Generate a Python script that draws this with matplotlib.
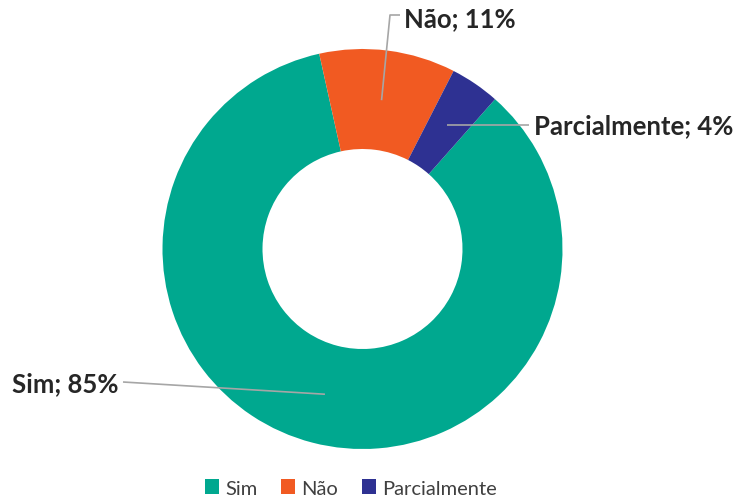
import numpy as np
import matplotlib.pyplot as plt
from matplotlib.patches import Patch

labels = ["Sim", "Não", "Parcialmente"]
values = [85, 11, 4]
colors = ["#00A88F", "#F15A22", "#2E3192"]

plt.rcParams["font.family"] = ["Lato", "DejaVu Sans"]

fig = plt.figure(figsize=(7.39, 5.02), dpi=100)
ax = fig.add_axes([0, 0, 1, 1])

cx, cy, r_out = 362.5, 252, 200
start = 48.5  # Sim begins ~41.5 deg clockwise from 12 o'clock
ax.pie(values, colors=colors, startangle=start, counterclock=False,
       center=(cx, cy), radius=r_out, frame=True,
       wedgeprops=dict(width=100, linewidth=0))
ax.set_xlim(0, 739)
ax.set_ylim(0, 502)
ax.set_aspect("equal")
ax.axis("off")

# leader lines + labels
fracs = np.array(values) / sum(values)
edges = start - 360 * np.concatenate([[0], np.cumsum(fracs)])
mids = np.deg2rad((edges[:-1] + edges[1:]) / 2)
anchors = [(cx + 150 * np.cos(a), cy + 150 * np.sin(a)) for a in mids]

line_kw = dict(color="#A6A6A6", lw=1.2, solid_capstyle="butt")
txt_kw = dict(fontsize=18.5, fontweight="bold", color="#262626", va="center")

# Sim
ax.plot([anchors[0][0], 123], [anchors[0][1], 119], **line_kw)
ax.text(118, 118, f"{labels[0]}; {values[0]}%", ha="right", **txt_kw)
# Não
ax.plot([anchors[1][0], 390, 400], [anchors[1][1], 486, 486], **line_kw)
ax.text(404, 483, f"{labels[1]}; {values[1]}%", ha="left", **txt_kw)
# Parcialmente
ax.plot([anchors[2][0], 529], [anchors[2][1], anchors[2][1]], **line_kw)
ax.text(534, 376, f"{labels[2]}; {values[2]}%", ha="left", **txt_kw)

handles = [Patch(facecolor=c, edgecolor="none") for c in colors]
fig.legend(handles, labels, loc="center", bbox_to_anchor=(351 / 739, 13 / 502),
           ncol=3, frameon=False, fontsize=14.5, handlelength=0.7, handleheight=0.7,
           handletextpad=0.3, columnspacing=1.2, labelcolor="#404040")

fig.savefig("out.png", dpi=100)
